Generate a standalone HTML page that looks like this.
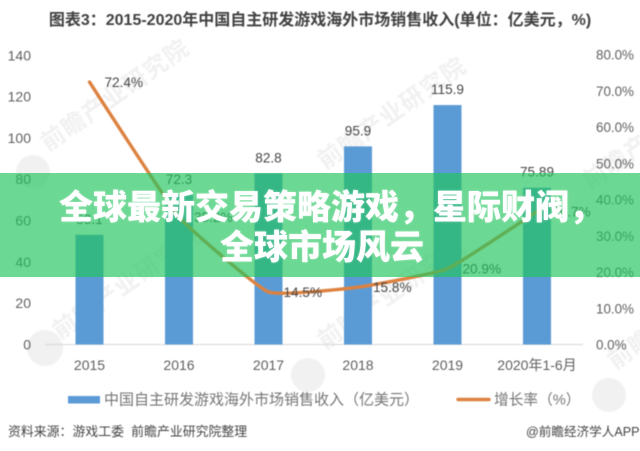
<!DOCTYPE html>
<html lang="zh">
<head>
<meta charset="utf-8">
<title>全球最新交易策略游戏，星际财阀，全球市场风云</title>
<style>
html,body{margin:0;padding:0;background:#fff}
#page{position:relative;width:640px;height:451px;overflow:hidden;background:#fff;font-family:"Liberation Sans","Noto Sans CJK SC",sans-serif}
#chart{position:absolute;left:0;top:0;filter:blur(.4px)}
#banner{position:absolute;left:0;top:173px;width:640px;height:104px;background:rgba(34,197,94,.67)}
#banner-title{position:absolute;left:0;top:12px;width:640px;margin:0;text-align:center;font:900 34px/40px "Noto Sans CJK SC","Liberation Sans",sans-serif;color:#fff;text-shadow:0 0 2px rgba(255,255,255,.5)}
#banner-title span{display:block;white-space:nowrap;position:relative}
#banner-line-1{left:11px}
#banner-line-2{left:2px}
</style>
</head>
<body>
<div id="page">
<svg id="chart" width="640" height="451" viewBox="0 0 640 451" xmlns="http://www.w3.org/2000/svg" font-family="'Liberation Sans','Noto Sans CJK SC',sans-serif">
  <g id="watermarks" fill="#f1f1f1" font-size="24" font-weight="700">
    <text transform="translate(48,152) rotate(-35)" letter-spacing="1">前瞻产业研究院</text>
    <text transform="translate(60,340) rotate(-35)" letter-spacing="1">前瞻产业研究院</text>
    <text transform="translate(325,170) rotate(-35)" letter-spacing="1">前瞻产业研究院</text>
    <text transform="translate(325,350) rotate(-35)" letter-spacing="1">前瞻产业研究院</text>
    <text transform="translate(590,190) rotate(-35)" letter-spacing="1">前瞻产业研究院</text>
    <text transform="translate(615,370) rotate(-35)" letter-spacing="1">前瞻</text>
    <circle cx="33" cy="172" r="17"/>
    <circle cx="45" cy="348" r="18"/>
    <circle cx="308" cy="375" r="17"/>
    <circle cx="609" cy="395" r="17"/>
  </g>
  <text x="320" y="25" text-anchor="middle" font-size="16" font-weight="700" fill="#404040">图表3：2015-2020年中国自主研发游戏海外市场销售收入(单位：亿美元，%)</text>
  <g id="left-ticks"></g>
  <g id="right-ticks"></g>
  <line x1="45" x2="583" y1="344.5" y2="344.5" stroke="#dcdcdc" stroke-width="1.2"/>
  <g id="bars"></g>
  <g id="x-labels"></g>
  <path id="growth-line" fill="none" stroke="#dd8240" stroke-width="3.4" stroke-linecap="round" stroke-linejoin="round"/>
  <g id="bar-labels"></g>
  <g id="line-labels"></g>
  <g>
    <rect x="68" y="396" width="32" height="7.5" fill="#5b9bd5"/>
    <text x="104" y="404.5" font-size="15" fill="#757575">中国自主研发游戏海外市场销售收入（亿美元）</text>
    <line x1="458" x2="489" y1="399.5" y2="399.5" stroke="#dd8240" stroke-width="3.4" stroke-linecap="round"/>
    <text x="494" y="404.5" font-size="14.7" fill="#757575">增长率（%）</text>
  </g>
  <text x="8" y="436" font-size="12.9" fill="#454545" xml:space="preserve">资料来源：游戏工委  前瞻产业研究院整理</text>
  <text x="526" y="436" font-size="12.6" fill="#454545">@前瞻经济学人APP</text>
</svg>
<div id="banner">
  <h1 id="banner-title"><span id="banner-line-1">全球最新交易策略游戏，星际财阀，</span><span id="banner-line-2">全球市场风云</span></h1>
</div>
</div>
<script>
var categories = ['2015', '2016', '2017', '2018', '2019', '2020年1-6月'];
var revenueValues = [53.1, 72.3, 82.8, 95.9, 115.9, 75.89];
var growthValues = [72.4, 35.2, 14.5, 15.8, 20.9, 36.7];
var leftTickValues = [0, 20, 40, 60, 80, 100, 120, 140];
var rightTickValues = [0, 10, 20, 30, 40, 50, 60, 70, 80];

var SVG_NS = 'http://www.w3.org/2000/svg';
function xPos(i) { return 89.5 + i * 89.5; }
function yLeft(v) { return 344.5 - v * 2.066; }
function yRight(v) { return 344.5 - v * 3.625; }
function makeText(parent, x, y, content, anchor, size, fill) {
  var t = document.createElementNS(SVG_NS, 'text');
  t.setAttribute('x', x);
  t.setAttribute('y', y);
  t.setAttribute('text-anchor', anchor);
  t.setAttribute('font-size', size);
  t.setAttribute('fill', fill);
  t.textContent = content;
  parent.appendChild(t);
  return t;
}

var leftGroup = document.getElementById('left-ticks');
leftTickValues.forEach(function (v) {
  var el = makeText(leftGroup, 31, yLeft(v) + 5, String(v), 'end', 14, '#5f5f5f');
  
  
});

var rightGroup = document.getElementById('right-ticks');
rightTickValues.forEach(function (v) {
  var el = makeText(rightGroup, 596, yRight(v) + 5, v.toFixed(1) + '%', 'start', 13.4, '#5f5f5f');
  
  
});

var barGroup = document.getElementById('bars');
var barLabelGroup = document.getElementById('bar-labels');
var xLabelGroup = document.getElementById('x-labels');
categories.forEach(function (c, i) {
  var r = document.createElementNS(SVG_NS, 'rect');
  r.setAttribute('x', xPos(i) - 14);
  r.setAttribute('y', yLeft(revenueValues[i]));
  r.setAttribute('width', 28);
  r.setAttribute('height', 344.5 - yLeft(revenueValues[i]));
  r.setAttribute('fill', '#5b9bd5');
  
  
  barGroup.appendChild(r);

  var bl = makeText(barLabelGroup, xPos(i), yLeft(revenueValues[i]) - 11, String(revenueValues[i]), 'middle', 13.6, '#454545');
  
  

  var xl = makeText(xLabelGroup, xPos(i), 370, c, 'middle', 14, '#5f5f5f');
  
  
});

var pts = growthValues.map(function (v, i) { return [xPos(i), yRight(v)]; });
var d = 'M' + pts[0][0] + ' ' + pts[0][1];
for (var i = 0; i < pts.length - 1; i++) {
  var p0 = pts[Math.max(i - 1, 0)], p1 = pts[i], p2 = pts[i + 1], p3 = pts[Math.min(i + 2, pts.length - 1)];
  var k = 0.06;
  var c1x = p1[0] + (p2[0] - p0[0]) * k, c1y = p1[1] + (p2[1] - p0[1]) * k;
  var c2x = p2[0] - (p3[0] - p1[0]) * k, c2y = p2[1] - (p3[1] - p1[1]) * k;
  d += ' C' + c1x + ' ' + c1y + ' ' + c2x + ' ' + c2y + ' ' + p2[0] + ' ' + p2[1];
}
document.getElementById('growth-line').setAttribute('d', d);

var lineLabelGroup = document.getElementById('line-labels');
growthValues.forEach(function (v, i) {
  var el = makeText(lineLabelGroup, xPos(i) + 15, yRight(v) + 5, v.toFixed(1) + '%', 'start', 13.6, '#454545');
  
  
});
</script>
</body>
</html>
